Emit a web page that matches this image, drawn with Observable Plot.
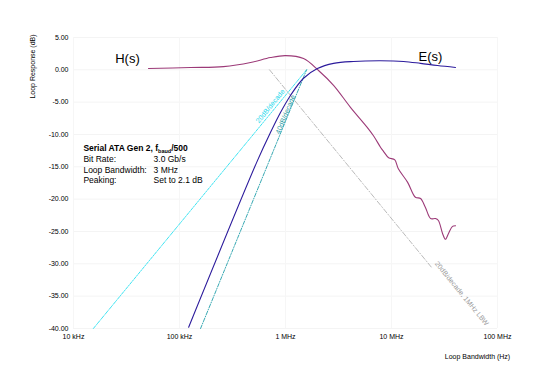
<!DOCTYPE html>
<html>
<head>
<meta charset="utf-8">
<script src="https://cdn.jsdelivr.net/npm/d3@7"></script>
<script src="https://cdn.jsdelivr.net/npm/@observablehq/plot@0.6"></script>
<style>
  html, body { margin: 0; padding: 0; background: #fff; }
  #chart svg { display: block; }
</style>
</head>
<body>
<div id="chart"></div>
<script>
// ---- Data ----
const xTicks = [1e4, 1e5, 1e6, 1e7, 1e8];
const xTickLabels = ["10 kHz", "100 kHz", "1 MHz", "10 MHz", "100 MHz"];
const yTicks = [5, 0, -5, -10, -15, -20, -25, -30, -35, -40];

// H(s) closed-loop response
const hFreq = [51e3, 127e3, 260e3, 468e3, 721e3, 1.0e6, 1.48e6, 2.05e6, 2.84e6, 4.1e6, 5.9e6, 6.76e6, 7.9e6, 8.4e6, 9.4e6, 10.7e6, 11.6e6, 14.2e6, 16.8e6, 18.8e6, 20.9e6, 23.4e6, 26.0e6, 27.7e6, 30.3e6, 32.3e6, 34.5e6, 37.6e6, 40.2e6];
const hDb   = [0.2, 0.36, 0.5, 1.13, 1.9, 2.2, 1.75, -0.1, -2.4, -5.8, -8.9, -10.2, -12.0, -12.6, -13.6, -13.9, -15.3, -17.4, -19.7, -19.9, -21.3, -23.0, -23.0, -23.3, -25.3, -26.2, -25.3, -24.2, -24.1];

// E(s) error response
const eFreq = [122e3, 545e3, 721e3, 897e3, 1.11e6, 1.48e6, 2.0e6, 2.84e6, 4.38e6, 7.87e6, 13e6, 18.8e6, 27.2e6, 40.2e6];
const eDb   = [-39.8, -14.0, -9.7, -6.6, -4.0, -1.3, 0.2, 1.0, 1.3, 1.4, 1.3, 1.0, 0.66, 0.36];

// Asymptotes
const slope20Freq = [15.4e3, 1.58e6];
const slope20Db   = [-40, 0];
const slope40Freq = [158e3, 1.58e6];
const slope40Db   = [-40, 0];
const lbwFreq = [0.707e6, 24e6];
const lbwDb   = [0, -30.6];

// Annotation text
const noteTitle = "Serial ATA Gen 2, f";
const noteKeys = ["Bit Rate:", "Loop Bandwidth:", "Peaking:"];
const noteVals = ["3.0 Gb/s", "3 MHz", "Set to 2.1 dB"];

// ---- Build tables ----
const hData = hFreq.map((f, i) => ({f, db: hDb[i]}));
const eData = eFreq.map((f, i) => ({f, db: eDb[i]}));
const s20 = slope20Freq.map((f, i) => ({f, db: slope20Db[i]}));
const s40 = slope40Freq.map((f, i) => ({f, db: slope40Db[i]}));
const lbw = lbwFreq.map((f, i) => ({f, db: lbwDb[i]}));
const noteRows = noteKeys.map((k, i) => ({k, v: noteVals[i], row: i}));

const rowDb = [-13.86, -15.56, -17.1];

const FONT = "'Liberation Sans', Arial, Helvetica, sans-serif";

const chart = Plot.plot({
  width: 550,
  height: 378,
  marginLeft: 73,
  marginRight: 53,
  marginTop: 37,
  marginBottom: 50,
  style: {fontFamily: FONT, fontSize: "7px", background: "#fff", color: "#000"},
  x: {type: "log", domain: [1e4, 1e8]},
  y: {domain: [-40, 5]},
  marks: [
    Plot.gridY(yTicks, {stroke: "#f4f4f4", strokeOpacity: 1}),
    Plot.gridX(xTicks, {stroke: "#f6f6f6", strokeOpacity: 1}),
    Plot.axisY(yTicks, {tickSize: 0, tickPadding: 5, tickFormat: d => d.toFixed(2), label: null, fontSize: 7}),
    Plot.axisX(xTicks, {tickSize: 0, tickPadding: 6, tickFormat: d => xTickLabels[xTicks.indexOf(d)], label: null, fontSize: 7}),

    // asymptotes
    Plot.line(s20, {x: "f", y: "db", stroke: "#3ee4f2", strokeWidth: 1, strokeDasharray: "3,1.2,1,1.2"}),
    Plot.line(s40, {x: "f", y: "db", stroke: "#39a9b3", strokeWidth: 1, strokeDasharray: "3.5,1.5,1,1.5"}),
    Plot.line(lbw, {x: "f", y: "db", stroke: "#a8a8a8", strokeWidth: 0.8, strokeDasharray: "5,2,1,2"}),

    Plot.text(["20dB/decade"], {x: () => 0.72e6, y: () => -5.6, rotate: -50.7, fill: "#22d8ec", fontSize: 7}),
    Plot.text(["40dB/decade"], {x: () => 1.0e6, y: () => -6.9, rotate: -67.7, fill: "#2a9aa2", fontSize: 7}),
    Plot.text(["20dB/decade, 1MHz LBW"], {x: () => 46e6, y: () => -34.6, rotate: 50.7, fill: "#999", fontSize: 7}),

    // curves
    Plot.line(hData, {x: "f", y: "db", stroke: "#9c3a78", strokeWidth: 1.1, curve: "catmull-rom"}),
    Plot.line(eData, {x: "f", y: "db", stroke: "#2c1b9c", strokeWidth: 1.1, curve: "catmull-rom"}),

    // curve labels
    Plot.text(["H(s)"], {x: () => 32.3e3, y: () => 1.75, fontSize: 13, fill: "#000"}),
    Plot.text(["E(s)"], {x: () => 23.3e6, y: () => 2.05, fontSize: 13, fill: "#000"}),

    // note block
    Plot.text([noteTitle], {x: () => 12.4e3, y: () => -12.16, textAnchor: "start", fontWeight: "bold", fontSize: 8.5, className: "note-title"}),
    Plot.text(noteRows, {x: () => 12.4e3, y: d => rowDb[d.row], text: "k", textAnchor: "start", fontSize: 8.5}),
    Plot.text(noteRows, {x: () => 56.9e3, y: d => rowDb[d.row], text: "v", textAnchor: "start", fontSize: 8.5}),

    // axis titles
    Plot.text(["Loop Response (dB)"], {frameAnchor: "top-left", dx: -41, dy: 29, rotate: -90, textAnchor: "middle", lineAnchor: "middle", fontSize: 7}),
    Plot.text(["Loop Bandwidth (Hz)"], {frameAnchor: "bottom-right", dx: -20, dy: 28, textAnchor: "middle", lineAnchor: "middle", fontSize: 7})
  ]
});

document.getElementById("chart").appendChild(chart);

// add subscript "baud" and "/500" to the note title
d3.select(chart).selectAll(".note-title text").each(function () {
  const t = d3.select(this);
  t.append("tspan").attr("dy", "2").attr("font-size", "5.5").text("baud");
  t.append("tspan").attr("dy", "-2").text("/500");
});
</script>
</body>
</html>
